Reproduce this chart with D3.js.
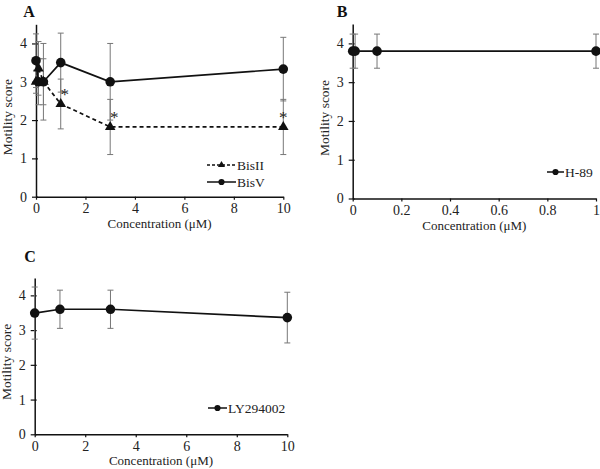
<!DOCTYPE html>
<html>
<head>
<meta charset="utf-8">
<script src="https://cdn.jsdelivr.net/npm/d3@7"></script>
<style>
  body { margin: 0; background: #fff; }
  svg text { font-family: "Liberation Serif", "DejaVu Serif", serif; }
</style>
</head>
<body>
<div class="canvas"></div>
<script>
// panel A: Bis II / Bis V
const concA = [0, 0.1, 0.3, 1, 3, 10];
const bisII = [3.0, 3.35, 3.0, 2.42, 1.82, 1.82];
const bisIIErr = [0.3, 0.7, 0.6, 0.65, 0.72, 0.72];
const bisV = [3.55, 3.0, 3.0, 3.5, 3.0, 3.33];
const bisVErr = [0.7, 0.6, 1.0, 0.77, 1.0, 0.83];
const starConc = [1, 3, 10];

// panel B: H-89
const concB = [0, 0.01, 0.1, 1];
const h89 = [3.8, 3.8, 3.8, 3.8];
const h89Err = [0.44, 0.44, 0.44, 0.44];

// panel C: LY294002
const concC = [0, 1, 3, 10];
const ly = [3.49, 3.6, 3.6, 3.36];
const lyErr = [0.75, 0.55, 0.55, 0.73];

const yTicks = [0, 1, 2, 3, 4];
const xTicksA = [0, 2, 4, 6, 8, 10];
const xTicksB = [0, 0.2, 0.4, 0.6, 0.8, 1];

const svg = d3
  .select(".canvas")
  .append("svg")
  .attr("width", 600)
  .attr("height", 469);

const zip = (xs, ys, es) => xs.map((x, i) => ({ x: x, y: ys[i], e: es[i] }));
const fmt = d3.format("~g");

function panel(opt) {
  const x = d3.scaleLinear().domain([0, opt.xMax]).range([opt.left, opt.right]);
  const y = d3.scaleLinear().domain([0, 4.5]).range([opt.bottom, opt.top]);
  const g = svg.append("g");

  // axes
  const yAxis = g
    .append("g")
    .attr("transform", `translate(${opt.left},0)`)
    .call(d3.axisLeft(y).tickValues(yTicks).tickFormat(fmt).tickSize(4).tickSizeOuter(0).tickPadding(5));
  yAxis.selectAll(".tick line").attr("x1", 2);

  const xAxis = g
    .append("g")
    .attr("transform", `translate(0,${opt.bottom})`)
    .call(d3.axisBottom(x).tickValues(opt.xTicks).tickFormat(fmt).tickSize(3).tickSizeOuter(0).tickPadding(3.5));

  [yAxis, xAxis].forEach((a) => a.attr("font-family", "Liberation Serif, serif").attr("font-size", 14));
  g.selectAll(".domain").attr("stroke", "#111").attr("stroke-width", 1.5);
  g.selectAll(".tick line").attr("stroke", "#111").attr("stroke-width", 1.2);
  g.selectAll(".tick text").attr("fill", "#222");

  // titles
  g.append("text")
    .attr("x", (opt.left + opt.right) / 2)
    .attr("y", opt.bottom + 31)
    .attr("text-anchor", "middle")
    .attr("font-size", 13)
    .attr("fill", "#222")
    .text("Concentration (μM)");

  g.append("text")
    .attr("transform", `translate(${opt.left - 24},${y(2) - 3}) rotate(-90)`)
    .attr("text-anchor", "middle")
    .attr("font-size", 13.5)
    .attr("fill", "#222")
    .text("Motility score");

  g.append("text")
    .attr("x", opt.labelX)
    .attr("y", opt.labelY)
    .attr("text-anchor", "middle")
    .attr("font-size", 16)
    .attr("font-weight", "bold")
    .attr("fill", "#111")
    .text(opt.label);

  // error bars first, then lines and markers
  const errG = g.append("g").attr("stroke", "#777").attr("stroke-width", 1);
  opt.series.forEach((s) => {
    s.data.forEach((d) => {
      errG.append("line").attr("x1", x(d.x)).attr("x2", x(d.x)).attr("y1", y(d.y - d.e)).attr("y2", y(d.y + d.e));
      [d.y - d.e, d.y + d.e].forEach((v) => {
        errG.append("line").attr("x1", x(d.x) - 3).attr("x2", x(d.x) + 3).attr("y1", y(v)).attr("y2", y(v));
      });
    });
  });

  const line = d3
    .line()
    .x((d) => x(d.x))
    .y((d) => y(d.y));

  opt.series.forEach((s) => {
    g.append("path")
      .datum(s.data)
      .attr("fill", "none")
      .attr("stroke", "#111")
      .attr("stroke-width", 1.7)
      .attr("stroke-dasharray", s.dash ? "4,3" : null)
      .attr("d", line);

    g.selectAll(null)
      .data(s.data)
      .enter()
      .append("path")
      .attr("transform", (d) => `translate(${x(d.x)},${y(d.y)})`)
      .attr("d", d3.symbol().type(s.symbol).size(s.symbol === d3.symbolTriangle ? 48 : 72))
      .attr("fill", "#111");
  });

  // legend
  opt.series.forEach((s, i) => {
    const ly0 = opt.legendY + i * 17;
    g.append("line")
      .attr("x1", opt.legendX)
      .attr("x2", opt.legendX + opt.legendLen)
      .attr("y1", ly0)
      .attr("y2", ly0)
      .attr("stroke", "#111")
      .attr("stroke-width", 1.5)
      .attr("stroke-dasharray", s.dash ? "3,2" : null);
    g.append("path")
      .attr("transform", `translate(${opt.legendX + opt.legendLen / 2},${ly0})`)
      .attr("d", d3.symbol().type(s.symbol).size(s.symbol === d3.symbolTriangle ? 22 : 30))
      .attr("fill", "#111");
    g.append("text")
      .attr("x", opt.legendX + opt.legendLen + 1)
      .attr("y", ly0 + 4.5)
      .attr("font-size", 13.5)
      .attr("fill", "#222")
      .text(s.name);
  });

  return { g: g, x: x, y: y };
}

const pA = panel({
  label: "A", labelX: 29, labelY: 17,
  left: 36, right: 283.3, top: 24.3, bottom: 196.7, xMax: 10, xTicks: xTicksA,
  legendX: 207, legendY: 165, legendLen: 29,
  series: [
    { name: "BisII", data: zip(concA, bisII, bisIIErr), dash: true, symbol: d3.symbolTriangle },
    { name: "BisV", data: zip(concA, bisV, bisVErr), dash: false, symbol: d3.symbolCircle },
  ],
});

// significance marks over Bis II
pA.g
  .selectAll(null)
  .data(starConc)
  .enter()
  .append("text")
  .attr("x", (c) => pA.x(c) + (c === 10 ? 0 : 4))
  .attr("y", (c) => pA.y(bisII[concA.indexOf(c)]) - 4)
  .attr("text-anchor", "middle")
  .attr("font-size", 17)
  .attr("fill", "#222")
  .text("*");

panel({
  label: "B", labelX: 342, labelY: 17,
  left: 352.7, right: 596, top: 24, bottom: 198.5, xMax: 1, xTicks: xTicksB,
  legendX: 547, legendY: 172, legendLen: 17,
  series: [{ name: "H-89", data: zip(concB, h89, h89Err), dash: false, symbol: d3.symbolCircle }],
});

panel({
  label: "C", labelX: 30, labelY: 262,
  left: 34.7, right: 287.3, top: 278, bottom: 434.3, xMax: 10, xTicks: xTicksA,
  legendX: 208, legendY: 408, legendLen: 19,
  series: [{ name: "LY294002", data: zip(concC, ly, lyErr), dash: false, symbol: d3.symbolCircle }],
});
</script>
</body>
</html>
